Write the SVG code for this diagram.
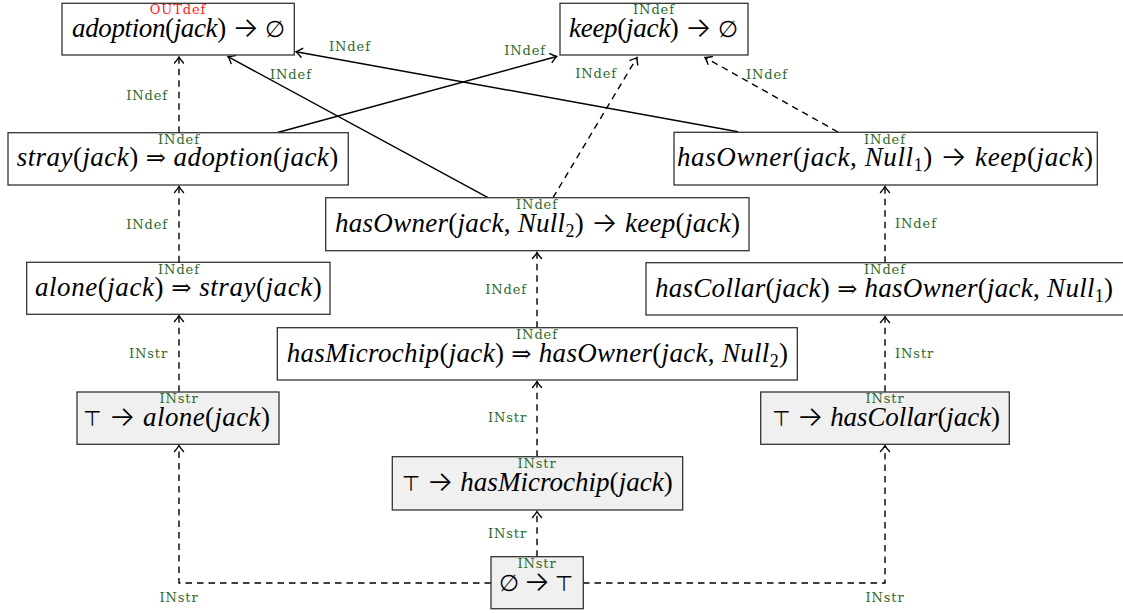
<svg xmlns="http://www.w3.org/2000/svg" width="1123" height="613" viewBox="0 0 1123 613">
<style>
.box{fill:#fff;stroke:#333;stroke-width:1.3}
.gbox{fill:#f0f0f0;stroke:#333;stroke-width:1.3}
.t{font-family:"Liberation Serif","Times New Roman",serif;font-size:27px;fill:#000}
.i{font-style:italic}
.a{font-family:Inter,"DejaVu Sans",sans-serif;font-size:28px;font-weight:300;font-style:normal}
.s{font-family:"DejaVu Serif",serif;font-size:24px;font-style:normal}
.tp{font-family:"DejaVu Sans",sans-serif;font-size:21px;font-style:normal}
.em{font-family:"DejaVu Sans",sans-serif;font-size:23px;font-style:normal}
.sub{font-size:18px;font-style:normal}
.lb{font-family:"DejaVu Serif",serif;font-size:13px;letter-spacing:0.9px;fill:#2d6a2d}
.red{fill:#ff2020}
.c{text-anchor:middle}
.e{text-anchor:end}
.ln{fill:none;stroke:#000;stroke-width:1.4}
.d{stroke-dasharray:6.5 5}
</style>
<defs>
<marker id="ah" viewBox="-8 -6 10 12" refX="0" refY="0" markerWidth="10" markerHeight="12" markerUnits="userSpaceOnUse" orient="auto">
<path d="M-6,-4.5 Q-2,-1 0,0 Q-2,1 -6,4.5" fill="none" stroke="#000" stroke-width="1.4" stroke-linecap="round" stroke-dasharray="none"/>
</marker>
</defs>

<g id="connectors">
<path class="ln d" d="M179,132.7 V57" marker-end="url(#ah)"/>
<path class="ln d" d="M179,262.3 V186.5" marker-end="url(#ah)"/>
<path class="ln d" d="M179,391.7 V315.5" marker-end="url(#ah)"/>
<path class="ln d" d="M491,583 H179 V445.5" marker-end="url(#ah)"/>
<path class="ln d" d="M583,583 H885 V445.5" marker-end="url(#ah)"/>
<path class="ln d" d="M537,556.7 V511.5" marker-end="url(#ah)"/>
<path class="ln d" d="M537,456.7 V381.5" marker-end="url(#ah)"/>
<path class="ln d" d="M537,327.7 V252.5" marker-end="url(#ah)"/>
<path class="ln d" d="M885,391.7 V316.5" marker-end="url(#ah)"/>
<path class="ln d" d="M885,262.7 V186.5" marker-end="url(#ah)"/>
<path class="ln d" d="M838,132 L705,57.5" marker-end="url(#ah)"/>
<path class="ln d" d="M553,197.7 L637,57.5" marker-end="url(#ah)"/>
<path class="ln" d="M488,197.7 L228,56.7" marker-end="url(#ah)"/>
<path class="ln" d="M738,131.7 L296,51.7" marker-end="url(#ah)"/>
<path class="ln" d="M276.7,132.7 L556.7,56.5" marker-end="url(#ah)"/>
<text class="lb e" x="168" y="99.5">INdef</text>
<text class="lb e" x="168" y="229">INdef</text>
<text class="lb e" x="168" y="358">INstr</text>
<text class="lb c" x="179" y="602">INstr</text>
<text class="lb c" x="885" y="602">INstr</text>
<text class="lb e" x="527" y="538">INstr</text>
<text class="lb e" x="527" y="422">INstr</text>
<text class="lb e" x="527" y="294">INdef</text>
<text class="lb" x="895" y="358">INstr</text>
<text class="lb" x="895" y="228">INdef</text>
<text class="lb" x="746" y="79">INdef</text>
<text class="lb e" x="617" y="78">INdef</text>
<text class="lb" x="270" y="79">INdef</text>
<text class="lb" x="329" y="51">INdef</text>
<text class="lb e" x="546" y="54.5">INdef</text>
</g>

<g id="n-adoption">
<rect class="box" x="62" y="3.3" width="232.3" height="51.7"/>
<text class="t" x="72" y="37" textLength="213"><tspan class="i">adoption</tspan>(<tspan class="i">jack</tspan>) <tspan class="a">→</tspan> <tspan class="em">∅</tspan></text>
<text class="lb red c" x="178" y="14">OUTdef</text>
</g>

<g id="n-keep">
<rect class="box" x="560" y="3.3" width="188" height="51.7"/>
<text class="t" x="569" y="37" textLength="169"><tspan class="i">keep</tspan>(<tspan class="i">jack</tspan>) <tspan class="a">→</tspan> <tspan class="em">∅</tspan></text>
<text class="lb c" x="654" y="14">INdef</text>
</g>

<g id="n-stray-adoption">
<rect class="box" x="8" y="132.7" width="340.3" height="52.3"/>
<text class="t" x="16.7" y="166" textLength="321.6"><tspan class="i">stray</tspan>(<tspan class="i">jack</tspan>) <tspan class="s">⇒</tspan> <tspan class="i">adoption</tspan>(<tspan class="i">jack</tspan>)</text>
<text class="lb c" x="179" y="143.5">INdef</text>
</g>

<g id="n-hasowner1-keep">
<rect class="box" x="674" y="132.3" width="423.3" height="52.7"/>
<text class="t" x="677" y="166" textLength="416"><tspan class="i">hasOwner</tspan>(<tspan class="i">jack</tspan>, <tspan class="i">Null</tspan><tspan class="sub" dy="5">1</tspan><tspan dy="-5">)</tspan> <tspan class="a">→</tspan> <tspan class="i">keep</tspan>(<tspan class="i">jack</tspan>)</text>
<text class="lb c" x="885" y="143.5">INdef</text>
</g>

<g id="n-hasowner2-keep">
<rect class="box" x="325.7" y="197.7" width="423.3" height="53"/>
<text class="t" x="335" y="231.5" textLength="405"><tspan class="i">hasOwner</tspan>(<tspan class="i">jack</tspan>, <tspan class="i">Null</tspan><tspan class="sub" dy="5">2</tspan><tspan dy="-5">)</tspan> <tspan class="a">→</tspan> <tspan class="i">keep</tspan>(<tspan class="i">jack</tspan>)</text>
<text class="lb c" x="537" y="209">INdef</text>
</g>

<g id="n-alone-stray">
<rect class="box" x="26.7" y="262.3" width="303.3" height="52"/>
<text class="t" x="35" y="296" textLength="286.7"><tspan class="i">alone</tspan>(<tspan class="i">jack</tspan>) <tspan class="s">⇒</tspan> <tspan class="i">stray</tspan>(<tspan class="i">jack</tspan>)</text>
<text class="lb c" x="179" y="273.5">INdef</text>
</g>

<g id="n-hascollar-hasowner1">
<rect class="box" x="646" y="262.7" width="478" height="52.3"/>
<text class="t" x="655" y="296.5" textLength="458"><tspan class="i">hasCollar</tspan>(<tspan class="i">jack</tspan>) <tspan class="s">⇒</tspan> <tspan class="i">hasOwner</tspan>(<tspan class="i">jack</tspan>, <tspan class="i">Null</tspan><tspan class="sub" dy="5">1</tspan><tspan dy="-5">)</tspan></text>
<text class="lb c" x="885" y="273.5">INdef</text>
</g>

<g id="n-hasmicrochip-hasowner2">
<rect class="box" x="277.3" y="327.7" width="520" height="52.3"/>
<text class="t" x="286.7" y="361.5" textLength="501.3"><tspan class="i">hasMicrochip</tspan>(<tspan class="i">jack</tspan>) <tspan class="s">⇒</tspan> <tspan class="i">hasOwner</tspan>(<tspan class="i">jack</tspan>, <tspan class="i">Null</tspan><tspan class="sub" dy="5">2</tspan><tspan dy="-5">)</tspan></text>
<text class="lb c" x="537" y="338.5">INdef</text>
</g>

<g id="n-top-alone">
<rect class="gbox" x="77" y="392" width="202" height="52.3"/>
<text class="t" x="83" y="425.5" textLength="187"><tspan class="tp">⊤</tspan> <tspan class="a">→</tspan> <tspan class="i">alone</tspan>(<tspan class="i">jack</tspan>)</text>
<text class="lb c" x="179" y="403">INstr</text>
</g>

<g id="n-top-hascollar">
<rect class="gbox" x="760.7" y="392" width="248.6" height="52.3"/>
<text class="t" x="772" y="425.5" textLength="228"><tspan class="tp">⊤</tspan> <tspan class="a">→</tspan> <tspan class="i">hasCollar</tspan>(<tspan class="i">jack</tspan>)</text>
<text class="lb c" x="885" y="403">INstr</text>
</g>

<g id="n-top-hasmicrochip">
<rect class="gbox" x="392.3" y="456.7" width="290.4" height="53.3"/>
<text class="t" x="401.7" y="490.5" textLength="271"><tspan class="tp">⊤</tspan> <tspan class="a">→</tspan> <tspan class="i">hasMicrochip</tspan>(<tspan class="i">jack</tspan>)</text>
<text class="lb c" x="537" y="468">INstr</text>
</g>

<g id="n-empty-top">
<rect class="gbox" x="491" y="556.7" width="92.3" height="52"/>
<text class="t" x="499" y="590.5" textLength="74"><tspan class="em">∅</tspan> <tspan class="a">→</tspan> <tspan class="tp">⊤</tspan></text>
<text class="lb c" x="537" y="568">INstr</text>
</g>
</svg>
